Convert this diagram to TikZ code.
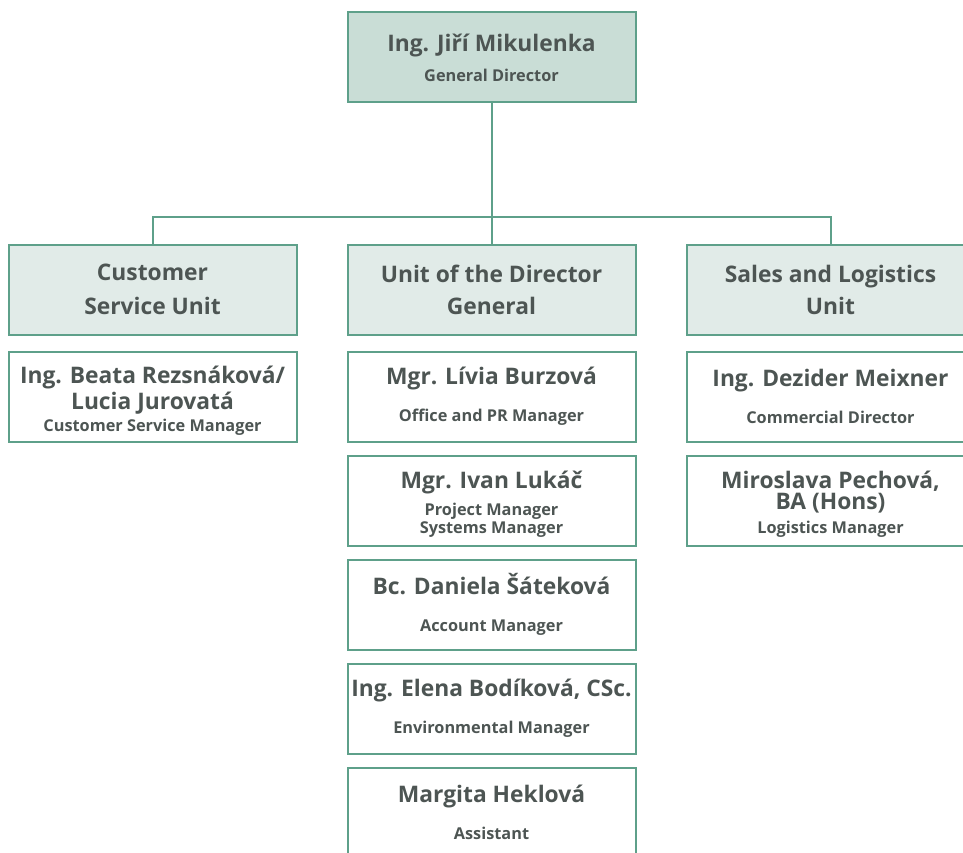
\documentclass[tikz,border=0pt]{standalone}
\usepackage{fontspec}
\setmainfont{Open Sans}
\usetikzlibrary{positioning}

\definecolor{boxline}{RGB}{94,160,138}
\definecolor{headfill}{RGB}{201,221,214}
\definecolor{unitfill}{RGB}{225,235,232}
\definecolor{txt}{RGB}{77,85,83}

\newcommand{\brole}[1]{{\fontsize{16.3}{18}\selectfont #1}}
\newcommand{\tallstrut}{\rule{0pt}{25pt}}

\tikzset{
  box/.style={draw=boxline, line width=2pt, minimum width=288pt, minimum height=90pt,
    inner sep=0pt, align=center, text=txt, font=\fontsize{22.8}{24}\selectfont\bfseries},
  headbox/.style={box, fill=headfill},
  unitbox/.style={box, fill=unitfill},
  link/.style={draw=boxline, line width=2pt},
}

\begin{document}
\begin{tikzpicture}[x=1pt, y=-1pt]
  \useasboundingbox (0,0) rectangle (963,853);

  % director
  \node[headbox] (gd) at (491.5,57.5) {Ing. Jiří Mikulenka\\[6pt]\brole{General\ Director}};

  % units
  \node[unitbox] (cust) at (152.5,289.5) {Customer\\[10pt]Service Unit};
  \node[unitbox] (dirunit) at (491.5,289.5) {Unit of the Director\\[8pt]General};
  \node[unitbox] (sales) at (830.5,289.5) {Sales and Logistics\\[8pt]Unit};

  % customer service
  \node[box, below=15pt of cust] (rezs) {\tallstrut Ing. Beata Rezsnáková/\\[2pt]Lucia Jurovatá\\[-2pt]\brole{Customer Service Manager}};

  % unit of the director general
  \node[box, below=15pt of dirunit] (burz) {Mgr. Lívia Burzová\\[13pt]\brole{Office and PR Manager}};
  \node[box, below=12pt of burz] (luka) {\tallstrut Mgr. Ivan Lukáč\\[3pt]\brole{Project Manager}\\[-6pt]\brole{Systems Manager}};
  \node[box, below=12pt of luka] (sate) {Bc. Daniela Šáteková\\[13pt]\brole{Account Manager}};
  \node[box, below=12pt of sate] (bodi) {Ing. Elena Bodíková, CSc.\\[13pt]\brole{Environmental Manager}};
  \node[box, below=12pt of bodi] (hekl) {Margita Heklová\\[13pt]\brole{Assistant}};

  % sales and logistics
  \node[box, below=15pt of sales] (meix) {Ing. Dezider Meixner\\[13pt]\brole{Commercial Director}};
  \node[box, below=12pt of meix] (pech) {\tallstrut Miroslava Pechová,\\[-3pt]BA (Hons)\\[0pt]\brole{Logistics Manager}};

  % lines
  \coordinate (bus) at (491.5,217);
  \draw[link] (gd) -- (bus);
  \draw[link] (cust.north) |- (bus) -| (sales.north);
  \draw[link] (bus) -- (dirunit.north);
\end{tikzpicture}
\end{document}
